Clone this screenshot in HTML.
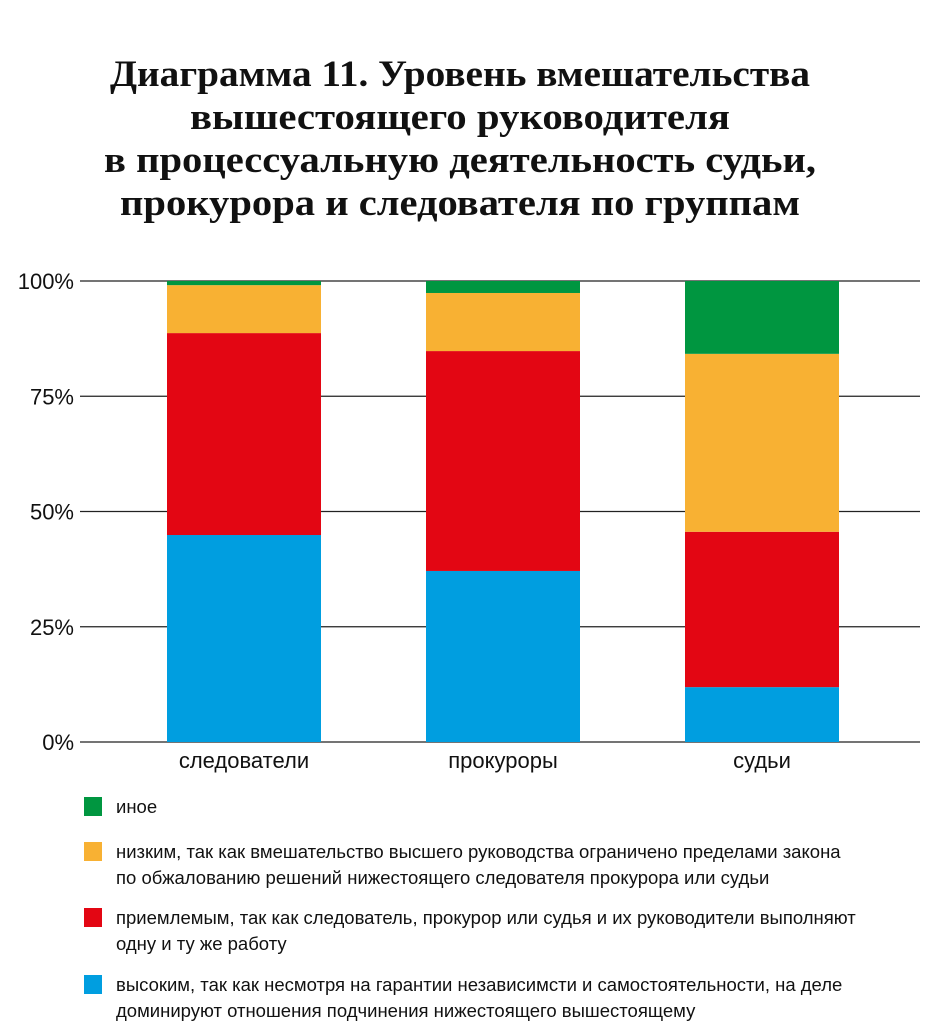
<!DOCTYPE html>
<html><head><meta charset="utf-8"><style>
html,body{margin:0;padding:0;background:#fff;}
svg{display:block;}
.t{font-family:"Liberation Serif","DejaVu Serif",serif;font-weight:bold;font-size:37px;fill:#111;}
.ax{font-family:"Liberation Sans Narrow","Liberation Sans",sans-serif;font-size:22px;fill:#111;}
.lg{font-family:"Liberation Sans Narrow","Liberation Sans",sans-serif;font-size:18.5px;fill:#111;}
</style></head><body>
<svg id="c" width="928" height="1023">
<g>
<text class="t" x="460" y="86" text-anchor="middle" textLength="700" lengthAdjust="spacingAndGlyphs">Диаграмма 11. Уровень вмешательства</text>
<text class="t" x="460" y="129" text-anchor="middle" textLength="540" lengthAdjust="spacingAndGlyphs">вышестоящего руководителя</text>
<text class="t" x="460" y="172" text-anchor="middle" textLength="712" lengthAdjust="spacingAndGlyphs">в процессуальную деятельность судьи,</text>
<text class="t" x="460" y="215" text-anchor="middle" textLength="680" lengthAdjust="spacingAndGlyphs">прокурора и следователя по группам</text>
</g>
<g id="grid"></g><g id="bars"></g><g id="xl"></g><g id="lg"></g>
</svg>
<script>
const categories=["следователи","прокуроры","судьи"];
const seriesBlue=[44.9,37.1,11.9];
const seriesRed=[43.8,47.7,33.7];
const seriesOrange=[10.4,12.6,38.6];
const seriesGreen=[0.9,2.6,15.8];
const tickValues=[0,25,50,75,100];
const tickLabels=["0%","25%","50%","75%","100%"];
const legendLabels=[["иное"],["низким, так как вмешательство высшего руководства ограничено пределами закона","по обжалованию решений нижестоящего следователя прокурора или судьи"],["приемлемым, так как следователь, прокурор или судья и их руководители выполняют","одну и ту же работу"],["высоким, так как несмотря на гарантии независимсти и самостоятельности, на деле","доминируют отношения подчинения нижестоящего вышестоящему"]];
const NS="http://www.w3.org/2000/svg";
const y0=742,y1=281;
const y=v=>y0-(y0-y1)*v/100;
const bx=i=>167+i*259, bw=154;
function mk(tag,attrs,parent){const e=document.createElementNS(NS,tag);for(const k in attrs)e.setAttribute(k,attrs[k]);parent.appendChild(e);return e;}
const grid=document.getElementById('grid');
tickValues.forEach((v,i)=>{
 const l=mk('line',{x1:80,x2:920,y1:y(v),y2:y(v),stroke:'#222','stroke-width':1.3},grid);
 
 
 const t=mk('text',{x:74,y:y(v)+8,class:'ax','text-anchor':'end'},grid);t.textContent=tickLabels[i];
 
 
});
const series=[[seriesBlue,'#009ee0','blue'],[seriesRed,'#e30613','red'],[seriesOrange,'#f8b133','orange'],[seriesGreen,'#009640','green']];
const bars=document.getElementById('bars');
categories.forEach((c,i)=>{
 let acc=0;
 series.forEach(([arr,col,nm])=>{
  const r=mk('rect',{x:bx(i),y:y(acc+arr[i]),width:bw,height:y(acc)-y(acc+arr[i]),fill:col},bars);
  
  
  acc+=arr[i];
 });
 const t=mk('text',{x:bx(i)+bw/2,y:768,'text-anchor':'middle',class:'ax','font-size':19},document.getElementById('xl'));
 t.textContent=c;
 
 
});
const lg=document.getElementById('lg');
const lcols=['#009640','#f8b133','#e30613','#009ee0'];
const ly=[797,842,908,975];
legendLabels.forEach((lines,i)=>{
 const s=mk('rect',{x:84,y:ly[i],width:18,height:19,fill:lcols[i]},lg);
 
 
 lines.forEach((tx,j)=>{
  const t=mk('text',{x:116,y:ly[i]+16+j*26,class:'lg'},lg);t.textContent=tx;
  
  
 });
});
</script>
</body></html>
